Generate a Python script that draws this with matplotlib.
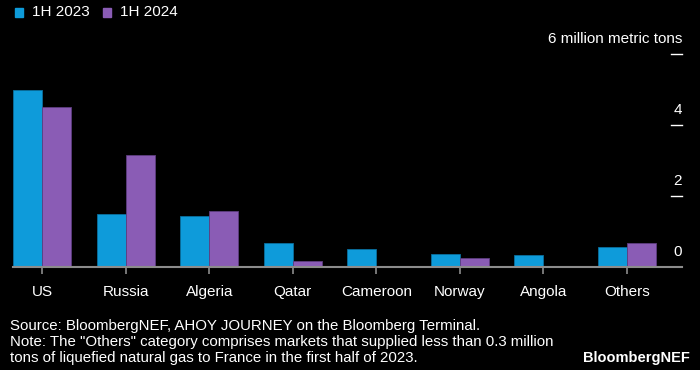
import matplotlib.pyplot as plt
import numpy as np

# datos (millones de toneladas métricas de GNL a Francia)
categories = ['US', 'Russia', 'Algeria', 'Qatar', 'Cameroon', 'Norway', 'Angola', 'Others']
h1_2023 = [5.0, 1.50, 1.45, 0.67, 0.50, 0.37, 0.33, 0.57]
h1_2024 = [4.5, 3.16, 1.59, 0.17, 0.02, 0.25, 0.02, 0.67]
yticks = [0, 2, 4, 6]
ytick_labels = ['0', '2', '4', '6 million metric tons']

blue = '#0E9BDA'
purple = '#8A5CB5'
font = 'Liberation Sans'

fig = plt.figure(figsize=(7, 3.7), dpi=100, facecolor='black')
ax = fig.add_axes([13 / 700, 103 / 370, 669 / 700, 213 / 370])
ax.set_facecolor('black')

x = np.arange(len(categories))
w = 0.347
ax.bar(x - w / 2, h1_2023, width=w, color=blue, edgecolor='#0A6F9E', linewidth=0.6, zorder=2)
ax.bar(x + w / 2, h1_2024, width=w, color=purple, edgecolor='#5E3D80', linewidth=0.6, zorder=2)

ax.set_xlim(-0.35, 7.66)
ax.set_ylim(0, 6)

for s in ['top', 'right', 'left']:
    ax.spines[s].set_visible(False)
ax.spines['bottom'].set_color('#8c8c8c')
ax.spines['bottom'].set_linewidth(1.5)
ax.spines['bottom'].set_zorder(3)

ax.set_xticks(x)
ax.set_xticklabels(categories, color='white', fontsize=11, fontname=font)
ax.tick_params(axis='x', colors='#8c8c8c', length=5, width=1.2, pad=8, labelcolor='white')

# eje y a la derecha, etiquetas encima de las marcas
ax.set_yticks([])
trans = ax.get_yaxis_transform()
for v, lab in zip(yticks, ytick_labels):
    if v > 0:
        ax.plot([0.984, 1.0], [v, v], transform=trans, color='white', lw=1, clip_on=False)
    ax.annotate(lab, xy=(1.0, v), xycoords=trans, xytext=(0, 6), textcoords='offset points',
                ha='right', va='bottom', color='white', fontsize=11, fontname=font,
                annotation_clip=False)

# leyenda
fig.patches.append(plt.Rectangle((15 / 700, 1 - 17 / 370), 8 / 700, 9 / 370,
                                 transform=fig.transFigure, color=blue))
fig.text(32 / 700, 1 - 12 / 370, '1H 2023', color='white', fontsize=11, fontname=font, va='center')
fig.patches.append(plt.Rectangle((103 / 700, 1 - 17 / 370), 8 / 700, 9 / 370,
                                 transform=fig.transFigure, color=purple))
fig.text(120 / 700, 1 - 12 / 370, '1H 2024', color='white', fontsize=11, fontname=font, va='center')

# notas al pie
fig.text(10 / 700, 1 - 326 / 370, 'Source: BloombergNEF, AHOY JOURNEY on the Bloomberg Terminal.',
         color='white', fontsize=10.8, fontname=font, va='center')
fig.text(10 / 700, 1 - 342 / 370,
         'Note: The "Others" category comprises markets that supplied less than 0.3 million',
         color='white', fontsize=10.8, fontname=font, va='center')
fig.text(10 / 700, 1 - 358 / 370, 'tons of liquefied natural gas to France in the first half of 2023.',
         color='white', fontsize=10.8, fontname=font, va='center')
fig.text(690 / 700, 1 - 358 / 370, 'BloombergNEF', color='white', fontsize=10.5, fontname=font,
         fontweight='bold', ha='right', va='center')

fig.savefig('out.png', dpi=100, facecolor='black')
